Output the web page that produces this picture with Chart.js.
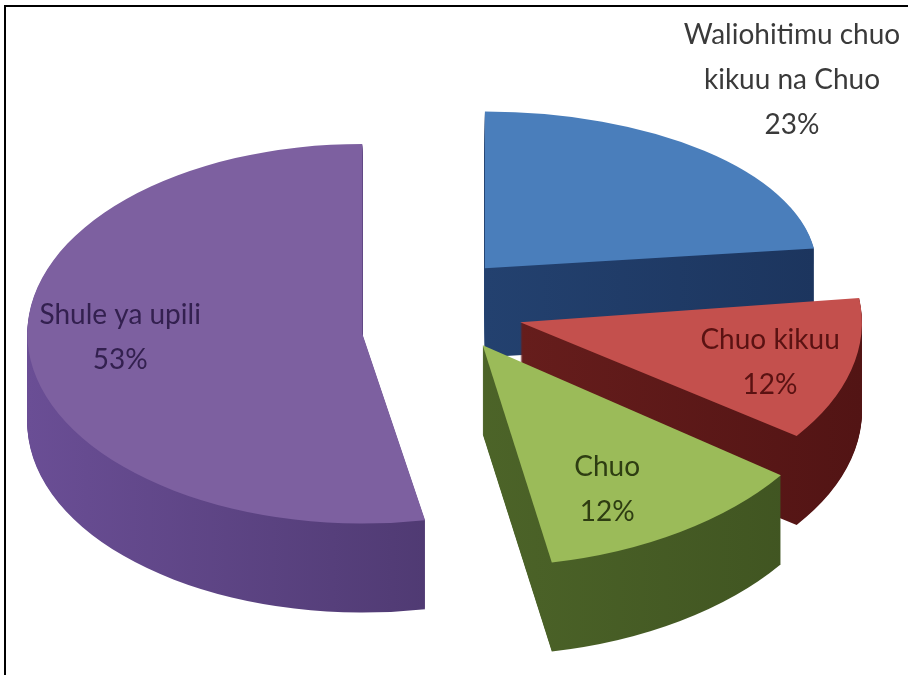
<!DOCTYPE html>
<html>
<head>
<meta charset="utf-8">
<script src="https://cdn.jsdelivr.net/npm/chart.js@4.4.1/dist/chart.umd.min.js"></script>
<style>
  html, body { margin: 0; padding: 0; background: #ffffff; }
  #wrap { width: 908px; height: 675px; position: relative; }
</style>
</head>
<body>
<div id="wrap"><canvas id="c" width="908" height="675"></canvas></div>
<script>
// ---- data ----
const categories = ["Waliohitimu chuo kikuu na Chuo", "Chuo kikuu", "Chuo", "Shule ya upili"];
const labelLines = [["Waliohitimu chuo", "kikuu na Chuo"], ["Chuo kikuu"], ["Chuo"], ["Shule ya upili"]];
const values = [23, 12, 12, 53];

// ---- styles ----
const topColors = ["#4A7EBB", "#C4504D", "#9BBB59", "#7D60A0"];
const sideLight = ["#2A4D80", "#7A2624", "#5A7530", "#6A4E95"];
const sideDark  = ["#1C355E", "#521414", "#3E5220", "#3E2D5C"];
const labelColors = ["#3A3A3A", "#5A1212", "#2E3D12", "#33204F"];

const pie3d = {
  id: 'pie3d',
  // screen-space centre of an exploded slice
  centre(arc, i, opts) {
    const a = (arc.startAngle + arc.endAngle) / 2;
    const s = opts.explode[i];
    return [arc.x + Math.cos(a) * s, arc.y + opts.tilt * Math.sin(a) * s + opts.lift[i]];
  },
  drawArc(chart, arc, i, fill, dy, opts) {
    const ctx = chart.ctx;
    const [scx, scy] = this.centre(arc, i, opts);
    const p = opts.perspective[i];
    ctx.save();
    ctx.translate(scx, scy + dy);
    ctx.scale(p[0], opts.tilt * p[1]);
    ctx.translate(-arc.x, -arc.y);
    const proxy = Object.create(arc);
    proxy.options = Object.assign({}, arc.options, {backgroundColor: fill, borderWidth: 0, offset: 0});
    proxy.draw(ctx);
    ctx.restore();
  },
  beforeDatasetsDraw(chart, args, opts) {
    const ctx = chart.ctx;
    const arcs = chart.getDatasetMeta(0).data;
    if (!arcs.length) return false;
    const D = opts.depth;
    arcs.forEach((arc, i) => {
      const g = ctx.createLinearGradient(arc.x - arc.outerRadius, 0, arc.x + arc.outerRadius, 0);
      g.addColorStop(0, sideLight[i]);
      g.addColorStop(1, sideDark[i]);
      for (let j = D; j >= 1; j--) this.drawArc(chart, arc, i, g, j, opts);
    });
    arcs.forEach((arc, i) => this.drawArc(chart, arc, i, arc.options.backgroundColor, 0, opts));
    return false;
  },
  afterDraw(chart, args, opts) {
    const ctx = chart.ctx;
    const arcs = chart.getDatasetMeta(0).data;
    const k = opts.tilt;
    const total = values.reduce((a, b) => a + b, 0);
    ctx.save();
    ctx.font = opts.font;
    ctx.textAlign = 'center';
    ctx.textBaseline = 'middle';
    arcs.forEach((arc, i) => {
      const a = (arc.startAngle + arc.endAngle) / 2;
      const [scx, scy] = this.centre(arc, i, opts);
      const p = opts.perspective[i];
      const R = arc.outerRadius;
      const f = opts.labelPos[i];
      const lx = scx + f[0] * p[0] * R * Math.cos(a);
      const ly = scy + f[1] * p[1] * k * R * Math.sin(a);
      const lines = labelLines[i].concat([Math.round(values[i] / total * 100) + '%']);
      const lh = opts.lineHeight;
      const startY = ly - (lines.length - 1) * lh / 2;
      ctx.fillStyle = labelColors[i];
      lines.forEach((t, n) => ctx.fillText(t, lx, startY + n * lh));
    });
    // frame
    ctx.fillStyle = '#000000';
    ctx.fillRect(4, 5, 904, 2);
    ctx.fillRect(4, 5, 2, 670);
    ctx.restore();
  }
};

new Chart(document.getElementById('c'), {
  type: 'pie',
  data: {
    labels: categories,
    datasets: [{
      data: values,
      backgroundColor: topColors,
      borderWidth: 0
    }]
  },
  options: {
    responsive: false,
    animation: false,
    events: [],
    radius: 335,
    layout: { padding: { left: 0, right: 40, top: 0, bottom: 45 } },
    plugins: {
      legend: { display: false },
      tooltip: { enabled: false },
      pie3d: {
        tilt: 0.55,
        depth: 89,
        explode: [77, 89, 91, 72],
        lift: [-15, -5, -12, 15],
        perspective: [[0.99, 0.85], [1.02, 1.05], [1.1, 1.2], [1.0, 1.03]],
        labelPos: [[1.40, 1.60], [0.755, 0.83], [0.63, 0.77], [0.726, 0.22]],
        font: '28px Lato',
        lineHeight: 45
      }
    }
  },
  plugins: [pie3d]
});
</script>
</body>
</html>
